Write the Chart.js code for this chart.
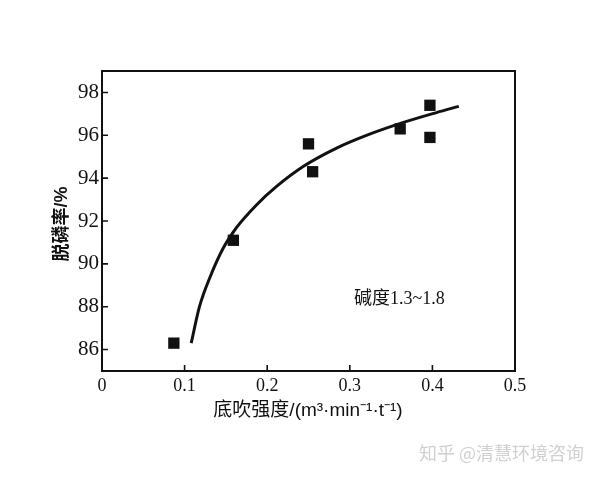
<!DOCTYPE html>
<html><head><meta charset="utf-8">
<script src="https://cdn.jsdelivr.net/npm/chart.js@4"></script>
<style>html,body{margin:0;padding:0;background:#fff}#wrap{width:600px;height:478px}</style>
</head><body><div id="wrap"><canvas id="c" width="600" height="478"></canvas></div>
<script>
// measured points (x: bottom-blowing intensity, y: dephosphorization rate %)
const pointX = [0.087, 0.159, 0.250, 0.255, 0.361, 0.397, 0.397];
const pointY = [86.3, 91.1, 95.6, 94.3, 96.3, 97.4, 95.9];
// fitted curve
const curveX = [0.108, 0.118, 0.131, 0.147, 0.163, 0.187, 0.211, 0.244, 0.284, 0.324, 0.365, 0.405, 0.432];
const curveY = [86.3, 88.0, 89.4, 90.75, 91.7, 92.75, 93.6, 94.55, 95.4, 96.05, 96.6, 97.06, 97.35];
const xTicks = [0, 0.1, 0.2, 0.3, 0.4, 0.5];
const xTickLabels = ['0', '0.1', '0.2', '0.3', '0.4', '0.5'];
const yTicks = [86, 88, 90, 92, 94, 96, 98];
const yTickLabels = ['86', '88', '90', '92', '94', '96', '98'];
const xTitle = '底吹强度/(m³·min⁻¹·t⁻¹)';
const yTitle = '脱磷率/%';
const note = '碱度1.3~1.8';
const watermark = '知乎 @清慧环境咨询';

const deco = {
  id: 'deco',
  afterDraw(chart) {
    const ctx = chart.ctx, a = chart.chartArea;
    const xs = chart.scales.x, ys = chart.scales.y;
    ctx.save();
    ctx.strokeStyle = '#111'; ctx.lineWidth = 2;
    ctx.strokeRect(a.left, a.top, a.right - a.left, a.bottom - a.top);
    ctx.lineWidth = 1.6;
    ctx.beginPath();
    xTicks.forEach(v => { const p = xs.getPixelForValue(v); ctx.moveTo(p, a.bottom); ctx.lineTo(p, a.bottom - 6); });
    yTicks.forEach(v => { const p = ys.getPixelForValue(v); ctx.moveTo(a.left, p); ctx.lineTo(a.left + 6, p); });
    ctx.stroke();
    ctx.fillStyle = '#111';
    ctx.font = '19px "Liberation Sans", "Noto Sans CJK SC"';
    ctx.textAlign = 'center'; ctx.textBaseline = 'middle';
    ctx.fillText(xTitle, 308, 411);
    ctx.save();
    ctx.translate(62, 224); ctx.rotate(-Math.PI / 2);
    ctx.font = 'bold 18px "Liberation Sans", "Noto Sans CJK SC"';
    ctx.fillText(yTitle, 0, 0);
    ctx.restore();
    ctx.font = '18px "Liberation Serif", "Noto Sans CJK SC"';
    ctx.textAlign = 'left';
    ctx.fillText(note, xs.getPixelForValue(0.305), ys.getPixelForValue(88.35));
    ctx.fillStyle = '#d0d0d0';
    ctx.font = '18px "Noto Sans CJK SC"';
    ctx.fillText(watermark, 419, 453);
    ctx.restore();
  }
};

new Chart(document.getElementById('c'), {
  type: 'scatter',
  data: {
    datasets: [
      {
        type: 'line',
        data: curveX.map((x, i) => ({ x, y: curveY[i] })),
        borderColor: '#111', borderWidth: 3, pointRadius: 0,
        cubicInterpolationMode: 'monotone', fill: false
      },
      {
        data: pointX.map((x, i) => ({ x, y: pointY[i] })),
        pointStyle: 'rect', pointRadius: 8, backgroundColor: '#111', borderColor: '#111', borderWidth: 0
      }
    ]
  },
  options: {
    responsive: false, animation: false, devicePixelRatio: 1,
    layout: { padding: { left: 0, top: 71, right: 85, bottom: 0 } },
    plugins: { legend: { display: false }, tooltip: { enabled: false } },
    scales: {
      x: {
        type: 'linear', min: 0, max: 0.5,
        afterBuildTicks: s => { s.ticks = xTicks.map(v => ({ value: v })); },
        afterFit: s => { s.height = 107; },
        grid: { display: false, drawTicks: false },
        border: { display: false },
        ticks: {
          padding: 4, color: '#111', maxRotation: 0,
          font: { family: '"Liberation Serif"', size: 18 },
          callback: (v) => xTickLabels[xTicks.indexOf(v)]
        }
      },
      y: {
        type: 'linear', min: 85, max: 99,
        afterBuildTicks: s => { s.ticks = yTicks.map(v => ({ value: v })); },
        afterFit: s => { s.width = 102; },
        grid: { display: false, drawTicks: false },
        border: { display: false },
        ticks: {
          padding: 3, color: '#111',
          font: { family: '"Liberation Serif"', size: 21 },
          callback: (v) => yTickLabels[yTicks.indexOf(v)]
        }
      }
    }
  },
  plugins: [deco]
});
</script></body></html>
